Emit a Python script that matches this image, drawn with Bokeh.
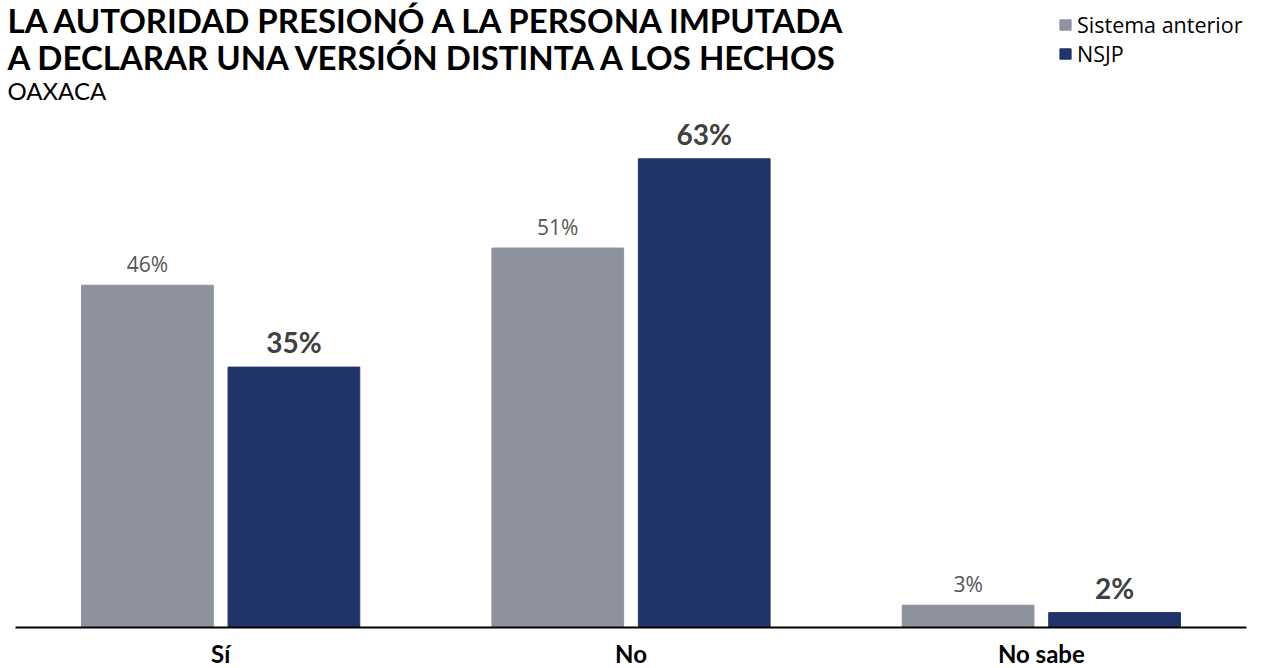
from bokeh.plotting import figure
from bokeh.models import (FactorRange, Range1d, ColumnDataSource, Label,
                          Legend, LegendItem)
from bokeh.transform import dodge
from bokeh.core.properties import value
from bokeh.embed import file_html
from bokeh.resources import INLINE

# ---- data ----
categories = ["Sí", "No", "No sabe"]
series_names = ["Sistema anterior", "NSJP"]
sistema_anterior = [46, 51, 3]
nsjp = [35, 63, 2]
title_lines = ["LA AUTORIDAD PRESIONÓ A LA PERSONA IMPUTADA",
               "A DECLARAR UNA VERSIÓN DISTINTA A LOS HECHOS"]
subtitle = "OAXACA"

# ---- style / layout ----
GRAY = "#8e929e"
NAVY = "#20346a"
W, H = 1261, 668
BASE_Y = 627            # pixel row of the baseline
PX_PER_UNIT = 7.44
PLOT_L, PLOT_R = 15, 1247
cat_px = (PLOT_R - PLOT_L) / len(categories)
pad = PLOT_L / cat_px
OFF = 0.1785
BW = 0.321

src = ColumnDataSource(dict(
    cat=categories,
    a=sistema_anterior,
    b=nsjp,
    a_lbl=[f"{v}%" for v in sistema_anterior],
    b_lbl=[f"{v}%" for v in nsjp],
))

p = figure(width=W, height=H,
           x_range=FactorRange(factors=categories, range_padding=pad,
                               range_padding_units="absolute"),
           y_range=Range1d(-(H - BASE_Y) / PX_PER_UNIT, BASE_Y / PX_PER_UNIT),
           output_backend="svg", toolbar_location=None,
           min_border=0, min_border_left=0, min_border_right=0,
           min_border_top=0, min_border_bottom=0)

r1 = p.vbar(x=dodge("cat", -OFF, range=p.x_range), top="a", width=BW,
            source=src, fill_color=GRAY, line_color=GRAY)
r2 = p.vbar(x=dodge("cat", OFF, range=p.x_range), top="b", width=BW,
            source=src, fill_color=NAVY, line_color=NAVY)

p.text(x=dodge("cat", -OFF, range=p.x_range), y="a", text="a_lbl", source=src,
       text_align="center", text_baseline="alphabetic", y_offset=-21,
       text_font=value("Open Sans"), text_font_size="21px", text_color="#555555")
p.text(x=dodge("cat", OFF, range=p.x_range), y="b", text="b_lbl", source=src,
       text_align="center", text_baseline="alphabetic", y_offset=-25,
       text_font=value("Lato"), text_font_style="bold", text_font_size="28px",
       text_color="#404040")

xa = p.xaxis[0]
xa.fixed_location = 0
xa.bounds = (0, len(categories))
xa.major_tick_out = 0
xa.major_tick_in = 0
xa.major_label_standoff = 11
xa.major_label_text_font = "Lato"
xa.major_label_text_font_style = "bold"
xa.major_label_text_font_size = "24px"
xa.major_label_text_color = "#000000"
xa.axis_line_width = 2
xa.axis_line_color = "#000000"
p.yaxis.visible = False
p.xgrid.visible = False
p.ygrid.visible = False
p.outline_line_color = None

# titles (screen units from the bottom-left of the frame, which is the whole canvas)
for txt, base, size, style in [(title_lines[0], 19, "33px", "bold"),
                               (title_lines[1], 56, "33px", "bold"),
                               (subtitle, 90, "24px", "normal")]:
    p.add_layout(Label(x=7, y=H - base, x_units="screen", y_units="screen",
                       text=txt, text_font="Lato", text_font_style=style,
                       text_font_size=size, text_color="#000000",
                       text_baseline="alphabetic", text_align="left"))

legend = Legend(items=[LegendItem(label=series_names[0], renderers=[r1]),
                       LegendItem(label=series_names[1], renderers=[r2])],
                location=(1058, H - 9 - 59), padding=0, margin=0, spacing=0,
                glyph_width=14, glyph_height=13, label_height=26, label_standoff=5,
                label_text_font="Open Sans", label_text_font_size="21.5px",
                label_text_color="#000000",
                border_line_color=None, background_fill_alpha=0)
p.add_layout(legend)

open("out.html", "w").write(file_html(p, INLINE))
